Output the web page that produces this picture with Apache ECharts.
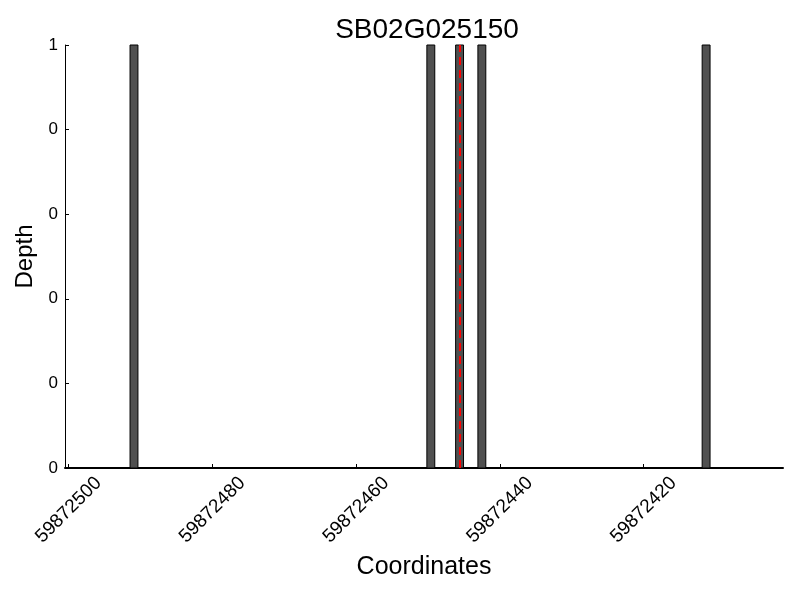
<!DOCTYPE html>
<html><head><meta charset="utf-8">
<script src="https://cdn.jsdelivr.net/npm/echarts@6/dist/echarts.min.js"></script>
<style>html,body{margin:0;padding:0;background:#fff}#c{width:800px;height:600px}</style>
</head><body><div id="c"></div>
<script>
const title = "SB02G025150";
const positions = [59872490.9, 59872449.6, 59872445.6, 59872442.5, 59872411.3];
const depths = [1, 1, 1, 1, 1];
const markerPos = 59872445.6;
const xTicks = [59872500, 59872480, 59872460, 59872440, 59872420];
const xMin = 59872400.6, xMax = 59872500.5;

const chart = echarts.init(document.getElementById('c'));
const F = "Liberation Sans, Arial, sans-serif";
const BAR_W = 1.1;
chart.setOption({
  animation: false,
  title: {text: title, left: 422, top: 11, textAlign: 'center',
    textStyle: {fontFamily: F, fontSize: 28, fontWeight: 'normal', color: '#000'}},
  grid: {left: 65, right: 17, top: 45, bottom: 132},
  xAxis: {
    type: 'value', inverse: true, min: xMin, max: xMax,
    name: 'Coordinates', nameLocation: 'middle', nameGap: 87,
    nameTextStyle: {fontFamily: F, fontSize: 25, color: '#000'},
    axisLine: {show: true, onZero: false, lineStyle: {color: '#000', width: 2}},
    axisTick: {show: true, inside: true, length: 4, lineStyle: {color: '#000'}, customValues: xTicks},
    axisLabel: {customValues: xTicks, rotate: 45, align: 'center', verticalAlign: 'middle',
      fontFamily: F, fontSize: 19, color: '#000', margin: 42,
      formatter: v => String(Math.round(v))},
    splitLine: {show: false}
  },
  yAxis: {
    type: 'value', min: 0, max: 1, interval: 0.2,
    name: 'Depth', nameLocation: 'middle', nameGap: 26,
    nameTextStyle: {fontFamily: F, fontSize: 24, color: '#000'},
    axisLine: {show: true, lineStyle: {color: '#000', width: 1}},
    axisTick: {show: true, inside: true, length: 4, lineStyle: {color: '#000'}},
    axisLabel: {fontFamily: F, fontSize: 17, color: '#000', margin: 7,
      formatter: v => String(Math.floor(v + 1e-9))},
    splitLine: {show: false}
  },
  series: [{
    type: 'custom',
    data: positions.map((p, i) => [p, depths[i]]),
    renderItem: (params, api) => {
      const x = api.value(0), y = api.value(1);
      const a = api.coord([x + BAR_W / 2, y]);
      const b = api.coord([x - BAR_W / 2, 0]);
      return {type: 'rect',
        shape: {x: Math.min(a[0], b[0]), y: a[1], width: Math.abs(b[0] - a[0]), height: b[1] - a[1]},
        style: {fill: '#505050', stroke: '#000', lineWidth: 1}};
    },
    markLine: {
      symbol: 'none', silent: true, label: {show: false},
      lineStyle: {color: '#ff0000', type: [8, 5], width: 2},
      data: [{xAxis: markerPos}]
    }
  }]
});
</script></body></html>
